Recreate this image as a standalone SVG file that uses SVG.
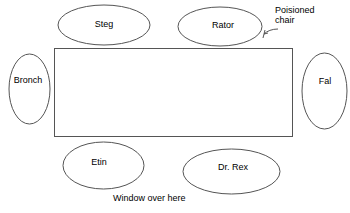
<svg xmlns="http://www.w3.org/2000/svg" width="350" height="213" viewBox="0 0 350 213">
<style>
.seat{fill:#fff;stroke:#555;stroke-width:1}
.t{font-family:"Liberation Sans",Arial,sans-serif;font-size:9px;fill:#000;text-anchor:middle}
.l{font-family:"Liberation Sans",Arial,sans-serif;font-size:9px;fill:#000}
</style>
<rect width="350" height="213" fill="#fff"/>
<g id="table"><rect x="54.5" y="48.5" width="238" height="88" fill="#fff" stroke="#555"/></g>
<g id="steg"><ellipse class="seat" cx="104" cy="25" rx="46" ry="20"/><text class="t" x="104" y="27">Steg</text></g>
<g id="rator"><ellipse class="seat" cx="220" cy="26.5" rx="42" ry="19.5"/><text class="t" x="223" y="28">Rator</text></g>
<g id="bronch"><ellipse class="seat" cx="29.5" cy="89" rx="20.5" ry="35"/><text class="t" x="28" y="83">Bronch</text></g>
<g id="fal"><ellipse class="seat" cx="324.5" cy="91" rx="22.5" ry="38"/><text class="t" x="325" y="84">Fal</text></g>
<g id="etin"><ellipse class="seat" cx="103.5" cy="165.5" rx="40.5" ry="23.5"/><text class="t" x="99" y="165">Etin</text></g>
<g id="drrex"><ellipse class="seat" cx="231.5" cy="171.5" rx="48.5" ry="22.5"/><text class="t" x="233" y="170">Dr. Rex</text></g>
<g id="labels">
<text class="l" x="113" y="201">Window over here</text>
<text class="l" x="275" y="13">Poisioned</text>
<text class="l" x="275" y="23">chair</text>
</g>
<g id="connectors" fill="none" stroke="#555" stroke-width="1">
<path d="M278,29 C272,29 267,31 264,34 L263,38"/>
<path d="M264,34 L265,30 M264,34 L268,33"/>
</g>
</svg>
